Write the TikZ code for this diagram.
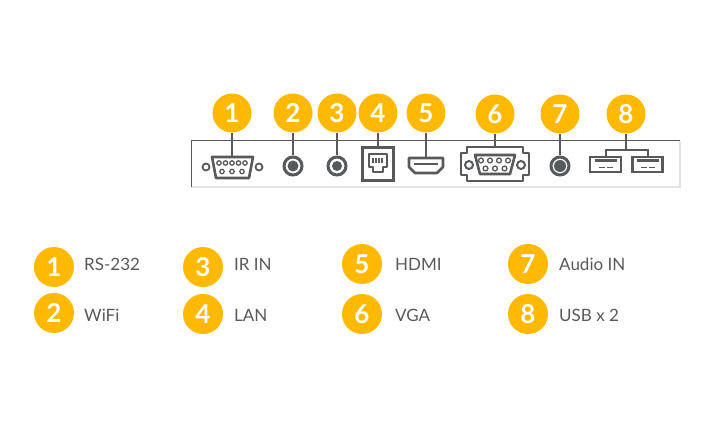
\documentclass[tikz,border=0pt]{standalone}
\usepackage{fontspec}
\setmainfont{Lato}
\definecolor{badge}{HTML}{FFB900}
\definecolor{port}{HTML}{58595B}
\definecolor{edge}{HTML}{E4E4E4}
\tikzset{
    numtop/.style={circle, fill=badge, text=white, minimum size=39pt, inner sep=0pt,
                   font=\fontsize{26}{26}\selectfont\bfseries},
    numkey/.style={numtop, minimum size=40pt},
    keytext/.style={anchor=west, inner sep=0pt, text=port, font=\fontsize{17}{17}\selectfont},
    jack/.style={circle, draw=port, line width=3pt, minimum size=18pt, inner sep=0pt, fill=white},
    porthole/.style={circle, fill=port, minimum size=11pt, inner sep=0pt},
    portline/.style={draw=port, line width=2.6pt},
    wire/.style={draw=port, line width=2pt},
    pin/.style={draw=port, line width=1.3pt, fill=white}
}
\begin{document}
\begin{tikzpicture}[x=1pt, y=-1pt]
\useasboundingbox (0,0) rectangle (720,427);

% leiste
\draw[edge, line width=1.5pt] (680,141) -- (680,187) -- (191,187);
\draw[port, line width=1pt] (191,187) -- (191,141) -- (680,141);

% obere Reihe
\node[numtop] (top1) at (232,113) {1};
\node[numtop] (top2) at (293,113) {2};
\node[numtop] (top3) at (337,113) {3};
\node[numtop] (top4) at (378,113) {4};
\node[numtop] (top5) at (426,113) {5};
\node[numtop] (top6) at (495,114) {6};
\node[numtop] (top7) at (560,114) {7};
\node[numtop] (top8) at (626,114) {8};

% rs-232
\coordinate (rsport) at (232,157);
\draw[portline, line join=round] (212,157) -- (253,157) -- (249,178) -- (216,178) -- cycle;
\foreach \x in {219,225.5,232,238.5,245} \draw[pin] (\x,163) circle (2.2pt);
\foreach \x in {222,232,242} \draw[pin] (\x,171.5) circle (2.2pt);
\draw[portline, line width=1.8pt] (206,167) circle (3.5pt) (259,167) circle (3.5pt);

% wifi, ir
\node[jack] (wifiport) at (293,166) {};
\node[porthole] at (wifiport) {};
\node[jack] (irport) at (337,166) {};
\node[porthole, minimum size=10pt] at (irport) {};

% lan
\node[draw=port, line width=2.6pt, minimum width=31pt, minimum height=33pt, inner sep=0pt] (lanport) at (378,164) {};
\draw[portline, line join=round] (369,154) -- (387,154) -- (387,167) -- (383,167) -- (383,172) -- (373,172) -- (373,167) -- (369,167) -- cycle;
\foreach \x in {373,376,379,382} \draw[port, line width=1.4pt] (\x,158) -- (\x,163);

% hdmi
\coordinate (hdmiport) at (426,158);
\draw[portline, line join=round] (409,158) -- (443,158) -- (443,167) -- (437,173) -- (415,173) -- (409,167) -- cycle;
\draw[port, line width=2pt] (414,164) -- (438,164);

% vga
\coordinate (vgaport) at (495,147);
\draw[portline, line join=round] (467,147) -- (523,147) -- (523,153) -- (529,153) -- (529,175) -- (523,175) -- (523,181) -- (467,181) -- (467,175) -- (461,175) -- (461,153) -- (467,153) -- cycle;
\draw[portline, line join=round] (475,155) -- (515,155) -- (510,174) -- (480,174) -- cycle;
\foreach \x in {481,490,499,508} \draw[pin] (\x,160.5) circle (2.4pt);
\foreach \x in {485.5,495,504.5} \draw[pin] (\x,168.5) circle (2.4pt);
\draw[portline, line width=2pt] (469,165) circle (4pt) (521,165) circle (4pt);

% audio
\node[jack] (audioport) at (560,166) {};
\node[porthole, minimum size=12pt] at (audioport) {};

% usb
\node[draw=port, line width=2.6pt, minimum width=31pt, minimum height=15pt, inner sep=0pt] (usbone) at (605.5,164.5) {};
\node[draw=port, line width=2.6pt, minimum width=30pt, minimum height=15pt, inner sep=0pt] (usbtwo) at (647.5,164.5) {};
\foreach \x in {605.5,647.5} {
    \draw[port, line width=2.6pt] (\x-11,160.5) -- (\x+11,160.5);
    \draw[port, line width=1.5pt] (\x-7,167.5) -- (\x-1,167.5) (\x+1,167.5) -- (\x+7,167.5);
}

% verbindungen
\draw[wire] (top1) -- (rsport);
\draw[wire] (top2) -- (wifiport);
\draw[wire] (top3) -- (irport);
\draw[wire] (top4) -- (lanport);
\draw[wire] (top5) -- (hdmiport);
\draw[wire] (top6) -- (vgaport);
\draw[wire] (top7) -- (audioport);
\coordinate (usbfork) at (626,150);
\draw[wire] (top8) -- (usbfork);
\draw[wire] (usbone.north) |- (usbfork) -| (usbtwo.north);

% legende
\node[numkey] (key1) at (54,267) {1};
\node[numkey] (key2) at (54,313) {2};
\node[numkey] (key3) at (203,267) {3};
\node[numkey] (key4) at (203,314) {4};
\node[numkey] (key5) at (362,264) {5};
\node[numkey] (key6) at (362,314) {6};
\node[numkey] (key7) at (528,264) {7};
\node[numkey] (key8) at (528,314) {8};

\node[keytext] (text1) at (84,264) {RS-232};
\node[keytext] (text2) at (84,315) {WiFi};
\node[keytext] (text3) at (234,264) {IR IN};
\node[keytext] (text4) at (234,315) {LAN};
\node[keytext] (text5) at (395,264) {HDMI};
\node[keytext] (text6) at (395,315) {VGA};
\node[keytext] (text7) at (559,264) {Audio IN};
\node[keytext] (text8) at (559,315) {USB x 2};

\end{tikzpicture}
\end{document}
